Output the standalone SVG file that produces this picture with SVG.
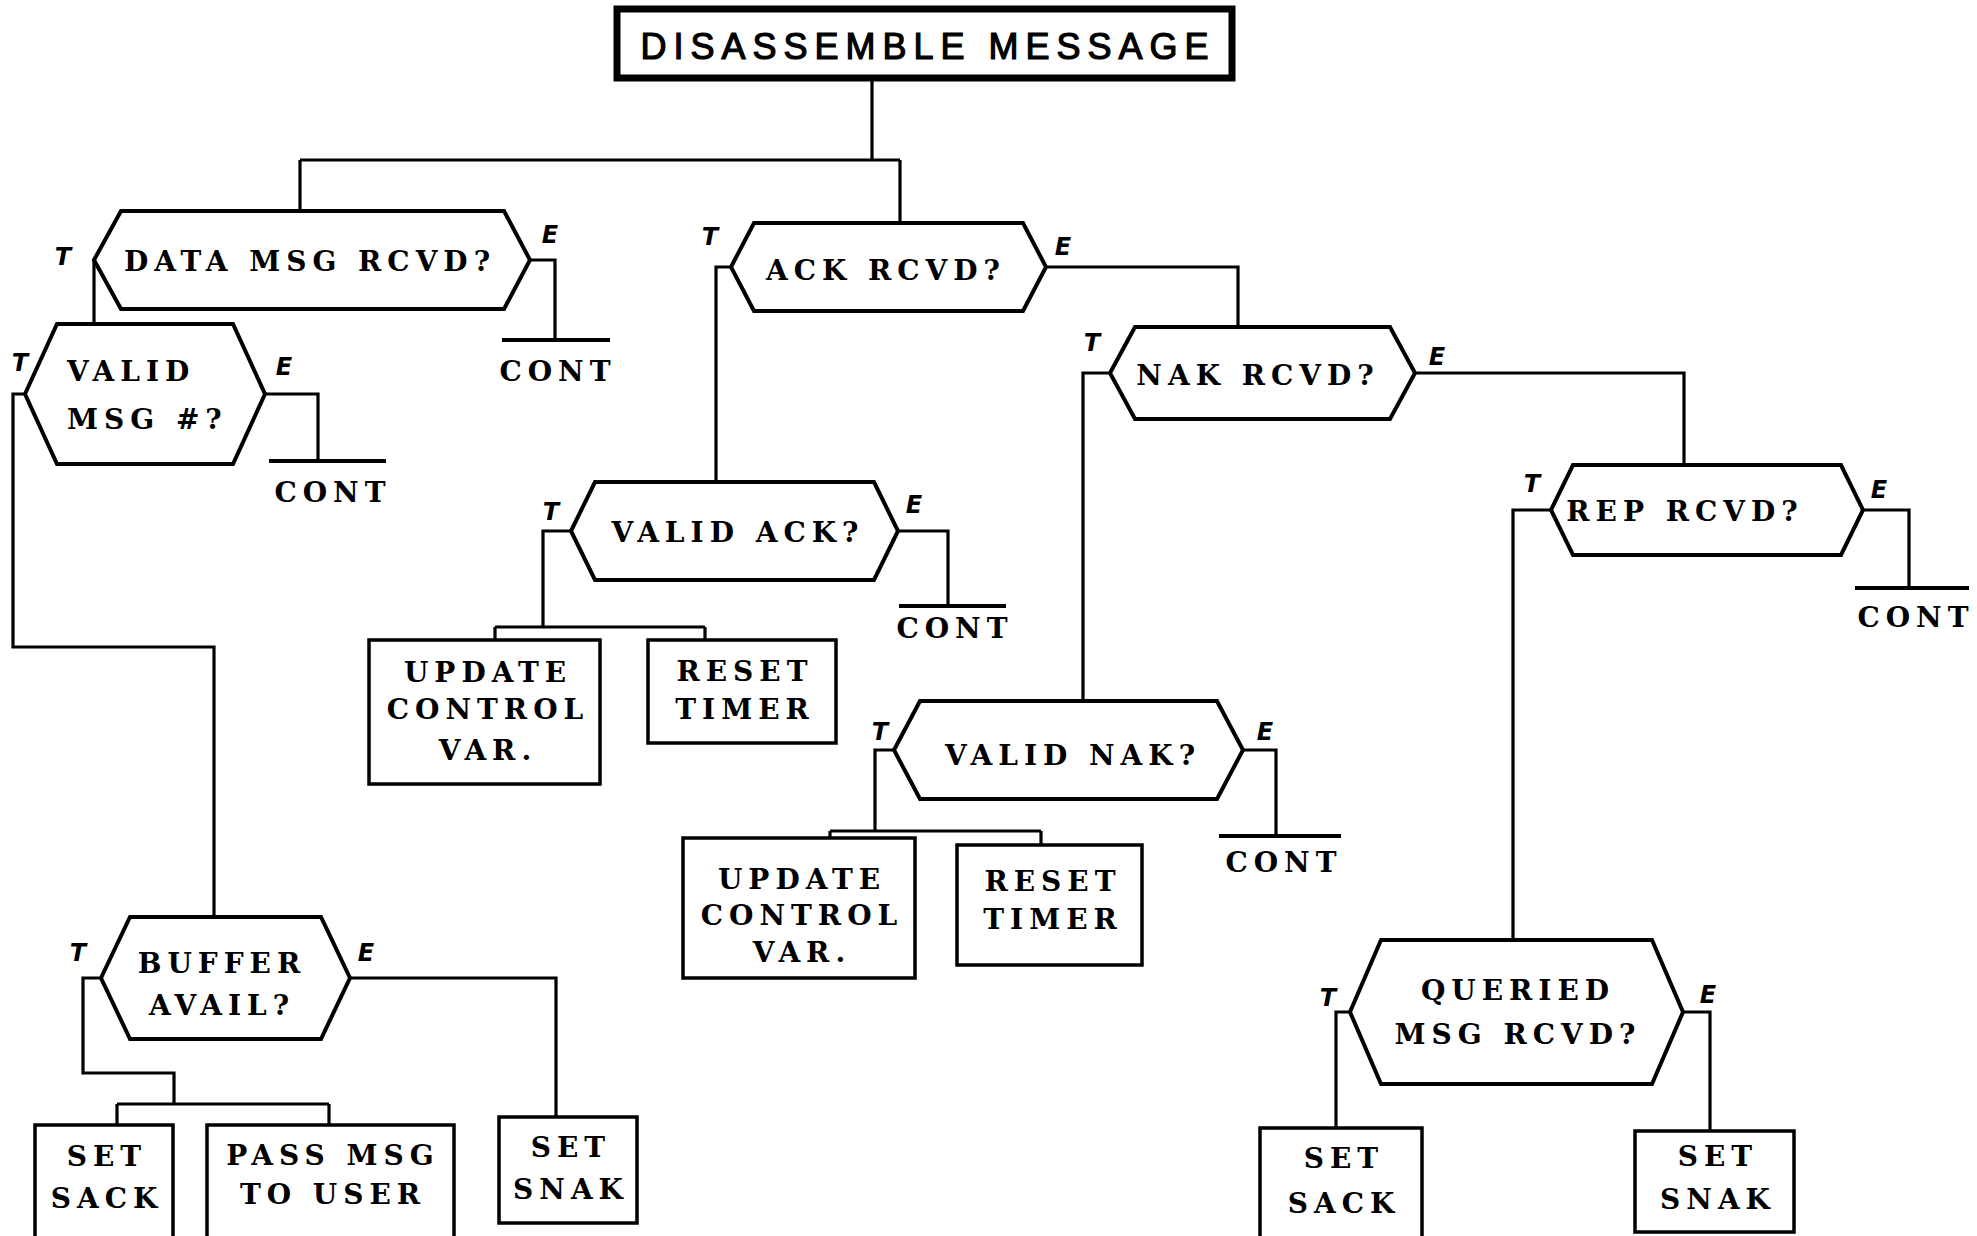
<svg xmlns="http://www.w3.org/2000/svg" width="1977" height="1236" viewBox="0 0 1977 1236">
  <style>
    .hex { fill: #fff; stroke: #000; stroke-width: 4; stroke-linejoin: miter; }
    .box { fill: #fff; stroke: #000; stroke-width: 3.5; }
    .wire { fill: none; stroke: #000; stroke-width: 3.2; }
    .bar { fill: none; stroke: #000; stroke-width: 4; }
    .tw { font-family: "DejaVu Serif", "Liberation Serif", serif; font-weight: bold; font-size: 28px; letter-spacing: 6px; fill: #000; text-anchor: middle; }
    .tl { font-family: "DejaVu Sans", "Liberation Sans", sans-serif; font-weight: bold; font-style: italic; font-size: 24px; fill: #000; text-anchor: middle; }
    .title { font-family: "Liberation Sans", Arial, sans-serif; font-size: 36px; letter-spacing: 7px; fill: #000; stroke: #000; stroke-width: 1.2; text-anchor: middle; }
  </style>
  <rect width="1977" height="1236" fill="#fff"/>

  <!-- connectors -->
  <g id="connectors">
    <path class="wire" d="M872,78 V160 M300,160 H900 M300,160 V211 M900,160 V223"/>
    <!-- DATA MSG RCVD? -->
    <path class="wire" d="M530,260 H555 V340"/>
    <path class="bar" d="M502,340 H610"/>
    <path class="wire" d="M94,260 V324"/>
    <!-- VALID MSG #? -->
    <path class="wire" d="M265,394 H318 V461"/>
    <path class="bar" d="M269,461 H386"/>
    <path class="wire" d="M25,394 H13 V647 H214 V917"/>
    <!-- BUFFER AVAIL? -->
    <path class="wire" d="M350,978 H556 V1117"/>
    <path class="wire" d="M101,978 H83 V1073 H174 V1104 M117,1104 H329 M117,1104 V1125 M329,1104 V1125"/>
    <!-- ACK RCVD? -->
    <path class="wire" d="M731,267 H716 V482"/>
    <path class="wire" d="M1046,267 H1238 V327"/>
    <!-- VALID ACK? -->
    <path class="wire" d="M571,531 H543 V627 M495,627 H705 M495,627 V640 M705,627 V640"/>
    <path class="wire" d="M898,531 H948 V606"/>
    <path class="bar" d="M899,606 H1006"/>
    <!-- NAK RCVD? -->
    <path class="wire" d="M1110,373 H1083 V701"/>
    <path class="wire" d="M1415,373 H1684 V465"/>
    <!-- VALID NAK? -->
    <path class="wire" d="M894,750 H875 V831 M830,831 H1041 M830,831 V838 M1041,831 V845"/>
    <path class="wire" d="M1243,750 H1276 V836"/>
    <path class="bar" d="M1219,836 H1341"/>
    <!-- REP RCVD? -->
    <path class="wire" d="M1551,510 H1513 V940"/>
    <path class="wire" d="M1863,510 H1909 V588"/>
    <path class="bar" d="M1855,588 H1969"/>
    <!-- QUERIED MSG RCVD? -->
    <path class="wire" d="M1350,1012 H1336 V1128"/>
    <path class="wire" d="M1683,1012 H1710 V1131"/>
  </g>

  <!-- start block -->
  <g id="disassemble">
    <rect x="617" y="9" width="615" height="69" fill="#fff" stroke="#000" stroke-width="7"/>
    <text class="title" x="928" y="59">DISASSEMBLE MESSAGE</text>
  </g>

  <!-- decisions -->
  <g id="data-msg">
    <polygon class="hex" points="94,260 121,211 504,211 530,260 504,309 121,309"/>
    <text class="tw" x="310" y="271">DATA MSG RCVD?</text>
    <text class="tl" x="63" y="265">T</text>
    <text class="tl" x="550" y="243">E</text>
    <text class="tw" x="558" y="381">CONT</text>
  </g>

  <g id="valid-msg">
    <polygon class="hex" points="25,394 57,324 233,324 265,394 233,464 57,464"/>
    <text class="tw" x="67" y="381" style="text-anchor:start">VALID</text>
    <text class="tw" x="67" y="429" style="text-anchor:start">MSG #?</text>
    <text class="tl" x="20" y="371">T</text>
    <text class="tl" x="284" y="375">E</text>
    <text class="tw" x="333" y="502">CONT</text>
  </g>

  <g id="buffer-avail">
    <polygon class="hex" points="101,978 130,917 321,917 350,978 321,1039 130,1039"/>
    <text class="tw" x="222" y="973">BUFFER</text>
    <text class="tw" x="222" y="1015">AVAIL?</text>
    <text class="tl" x="78" y="961">T</text>
    <text class="tl" x="366" y="961">E</text>
  </g>

  <g id="ack-rcvd">
    <polygon class="hex" points="731,267 754,223 1023,223 1046,267 1023,311 754,311"/>
    <text class="tw" x="886" y="280">ACK RCVD?</text>
    <text class="tl" x="710" y="245">T</text>
    <text class="tl" x="1063" y="255">E</text>
  </g>

  <g id="valid-ack">
    <polygon class="hex" points="571,531 595,482 874,482 898,531 874,580 595,580"/>
    <text class="tw" x="738" y="542">VALID ACK?</text>
    <text class="tl" x="551" y="520">T</text>
    <text class="tl" x="914" y="513">E</text>
    <text class="tw" x="955" y="638">CONT</text>
  </g>

  <g id="nak-rcvd">
    <polygon class="hex" points="1110,373 1135,327 1390,327 1415,373 1390,419 1135,419"/>
    <text class="tw" x="1258" y="385">NAK RCVD?</text>
    <text class="tl" x="1092" y="351">T</text>
    <text class="tl" x="1437" y="365">E</text>
  </g>

  <g id="valid-nak">
    <polygon class="hex" points="894,750 920,701 1217,701 1243,750 1217,799 920,799"/>
    <text class="tw" x="1073" y="765">VALID NAK?</text>
    <text class="tl" x="880" y="740">T</text>
    <text class="tl" x="1265" y="740">E</text>
    <text class="tw" x="1284" y="872">CONT</text>
  </g>

  <g id="rep-rcvd">
    <polygon class="hex" points="1551,510 1573,465 1841,465 1863,510 1841,555 1573,555"/>
    <text class="tw" x="1685" y="521">REP RCVD?</text>
    <text class="tl" x="1532" y="492">T</text>
    <text class="tl" x="1879" y="498">E</text>
    <text class="tw" x="1916" y="627">CONT</text>
  </g>

  <g id="queried-msg">
    <polygon class="hex" points="1350,1012 1381,940 1652,940 1683,1012 1652,1084 1381,1084"/>
    <text class="tw" x="1518" y="1000">QUERIED</text>
    <text class="tw" x="1518" y="1044">MSG RCVD?</text>
    <text class="tl" x="1328" y="1006">T</text>
    <text class="tl" x="1708" y="1003">E</text>
  </g>

  <!-- actions -->
  <g id="update-ack">
    <rect class="box" x="369" y="640" width="231" height="144"/>
    <text class="tw" x="488" y="682">UPDATE</text>
    <text class="tw" x="488" y="719">CONTROL</text>
    <text class="tw" x="488" y="760">VAR.</text>
  </g>
  <g id="reset-ack">
    <rect class="box" x="648" y="640" width="188" height="103"/>
    <text class="tw" x="745" y="681">RESET</text>
    <text class="tw" x="745" y="719">TIMER</text>
  </g>
  <g id="update-nak">
    <rect class="box" x="683" y="838" width="232" height="140"/>
    <text class="tw" x="802" y="889">UPDATE</text>
    <text class="tw" x="802" y="925">CONTROL</text>
    <text class="tw" x="802" y="962">VAR.</text>
  </g>
  <g id="reset-nak">
    <rect class="box" x="957" y="845" width="185" height="120"/>
    <text class="tw" x="1053" y="891">RESET</text>
    <text class="tw" x="1053" y="929">TIMER</text>
  </g>
  <g id="set-sack-1">
    <rect class="box" x="35" y="1125" width="138" height="130"/>
    <text class="tw" x="107" y="1166">SET</text>
    <text class="tw" x="107" y="1208">SACK</text>
  </g>
  <g id="pass-msg">
    <rect class="box" x="207" y="1125" width="247" height="130"/>
    <text class="tw" x="333" y="1165">PASS MSG</text>
    <text class="tw" x="333" y="1204">TO USER</text>
  </g>
  <g id="set-snak-1">
    <rect class="box" x="499" y="1117" width="138" height="106"/>
    <text class="tw" x="571" y="1157">SET</text>
    <text class="tw" x="571" y="1199">SNAK</text>
  </g>
  <g id="set-sack-2">
    <rect class="box" x="1260" y="1128" width="162" height="130"/>
    <text class="tw" x="1344" y="1168">SET</text>
    <text class="tw" x="1344" y="1213">SACK</text>
  </g>
  <g id="set-snak-2">
    <rect class="box" x="1635" y="1131" width="159" height="101"/>
    <text class="tw" x="1718" y="1166">SET</text>
    <text class="tw" x="1718" y="1209">SNAK</text>
  </g>
</svg>
